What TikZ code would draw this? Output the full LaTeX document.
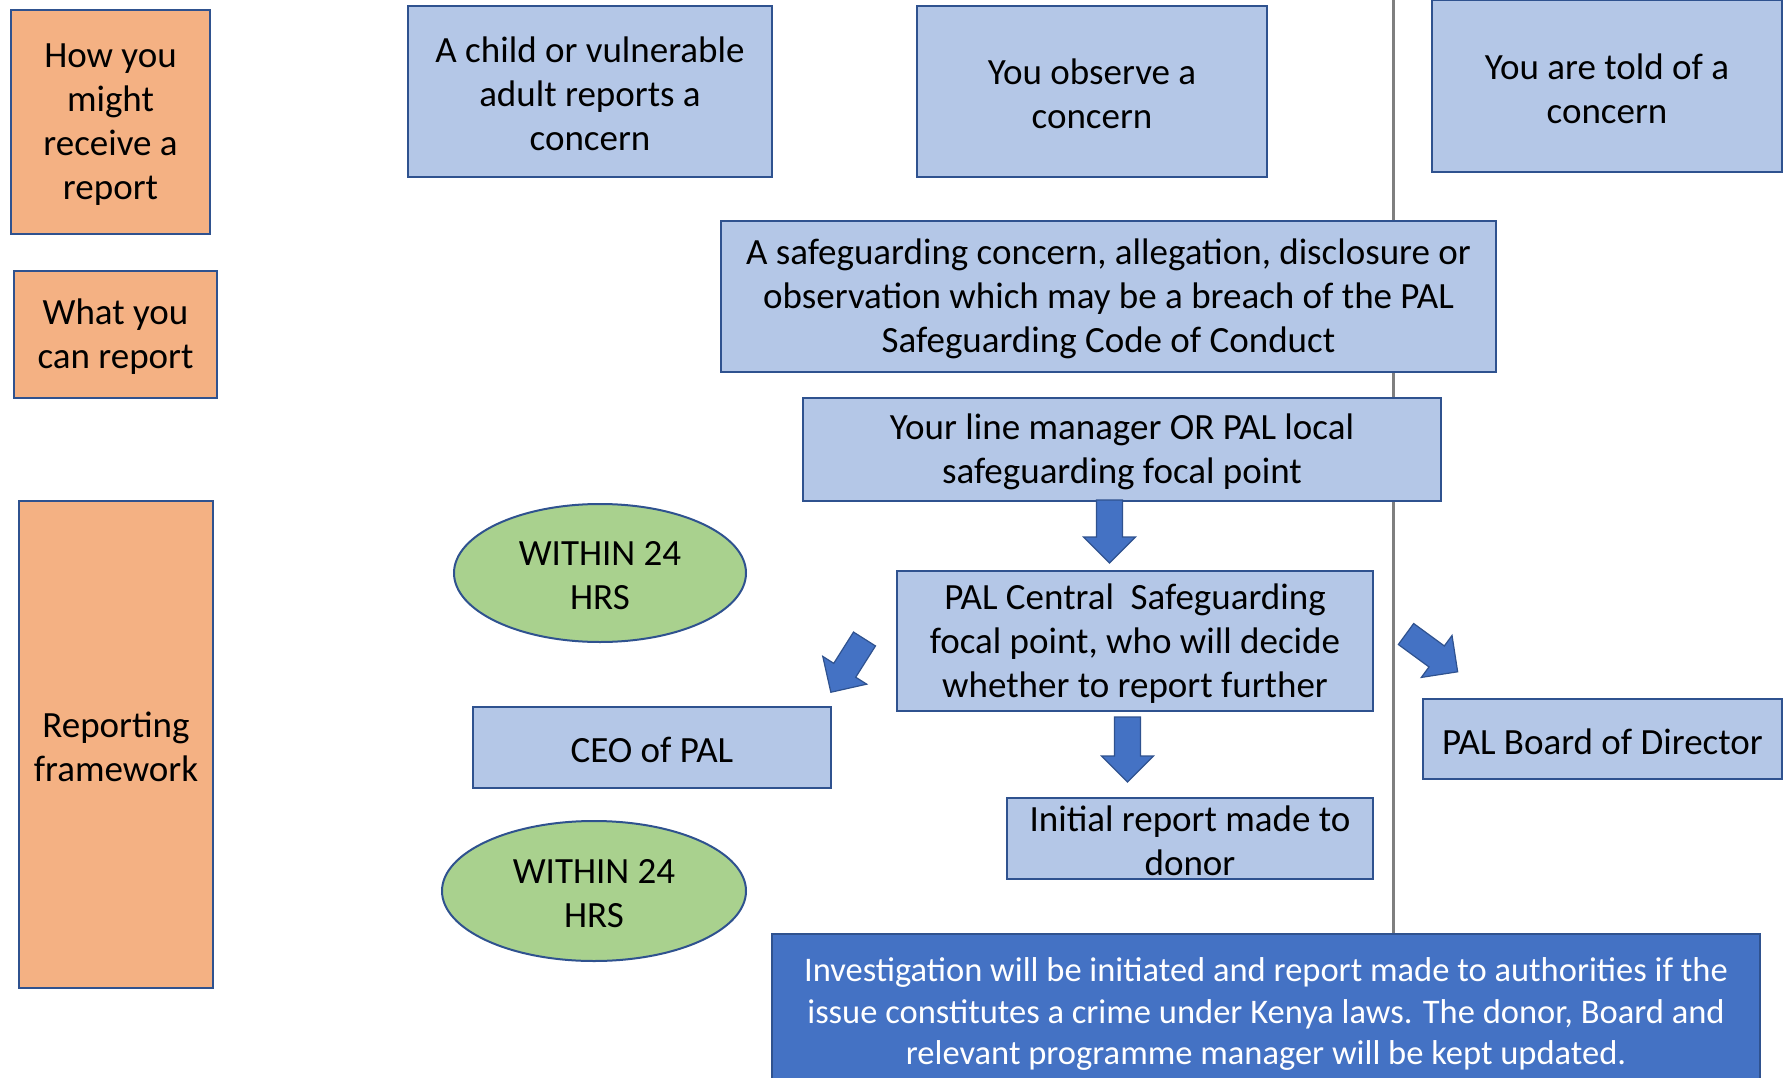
\documentclass[tikz,border=0pt]{standalone}
\usepackage{fontspec}
\setmainfont{Carlito}
\usetikzlibrary{shapes.geometric}
\definecolor{lblue}{HTML}{B4C7E7}
\definecolor{bord}{HTML}{2F528F}
\definecolor{orng}{HTML}{F4B183}
\definecolor{grn}{HTML}{A9D18E}
\definecolor{dblue}{HTML}{4472C4}
\definecolor{gline}{HTML}{7F7F7F}
\tikzset{
  base/.style={draw=bord, line width=2pt, inner sep=0pt},
  obox/.style={base, fill=orng},
  bbox/.style={base, fill=lblue},
  gell/.style={base, ellipse, fill=grn},
  ibox/.style={base, fill=dblue},
  txt/.style={inner sep=0pt, align=center, font=\fontsize{37}{44}\selectfont},
  itxt/.style={inner sep=0pt, align=center, text=white, font=\fontsize{34.5}{41.5}\selectfont},
  barrow/.style={draw=bord, line width=1.2pt, fill=dblue, line join=miter},
  vline/.style={draw=gline, line width=3pt}
}
% shape node plus its text node, text set 2.5pt lower than the centre
\newcommand{\boxnode}[7]{%
  \node[#1, minimum width=#5, minimum height=#6] (#2) at (#3,#4) {};
  \node[txt] (#2-t) at ([yshift=-2.5pt]#2.center) {#7};}
\newcommand{\blockarrow}[5]{%
  \begin{scope}[shift={(#2,#3)},rotate=#4]
    \filldraw[barrow] (0,-13) -- (#5-26,-13) -- (#5-26,-26) -- (#5,0) -- (#5-26,26) -- (#5-26,13) -- (0,13) -- cycle;
    \coordinate (#1) at (#5,0);
  \end{scope}}
\begin{document}
\begin{tikzpicture}[x=1pt,y=-1pt]
\useasboundingbox (0,0) rectangle (1783,1078);
% vertical separator
\coordinate (vtop) at (1393,0);
\node[ibox, minimum width=988, minimum height=156] (inv) at (1266,1012) {};
\node[itxt] (inv-t) at ([yshift=-2pt]inv.center)
 {Investigation will be initiated and report made to authorities if the\\issue constitutes a crime under Kenya laws. The donor, Board and\\relevant programme manager will be kept updated.};
\draw[vline] (vtop) -- (vtop |- inv.north);
% left column
\boxnode{obox}{o1}{110.5}{122}{199}{224}{How you\\might\\receive a\\report}
\boxnode{obox}{o2}{115.5}{334.5}{203}{127}{What you\\can report}
\boxnode{obox}{o3}{116}{744.5}{194}{487}{Reporting\\framework}
% top row
\boxnode{bbox}{b1}{590}{91.5}{364}{171}{A child or vulnerable\\adult reports a\\concern}
\boxnode{bbox}{b2}{1092}{91.5}{350}{171}{You observe a\\concern}
\boxnode{bbox}{b3}{1607}{86}{350}{172}{You are told of a\\concern}
% middle
\boxnode{bbox}{sg}{1108.5}{296.5}{775}{151}{A safeguarding concern, allegation, disclosure or\\observation which may be a breach of the PAL\\Safeguarding Code of Conduct}
\boxnode{bbox}{lm}{1122}{449.5}{638}{103}{Your line manager OR PAL local\\safeguarding focal point}
\boxnode{bbox}{cen}{1135}{641}{476}{140}{PAL Central\ \ Safeguarding\\focal point, who will decide\\whether to report further}
\boxnode{bbox}{ceo}{652}{747.5}{358}{81}{CEO of PAL}
\boxnode{bbox}{bod}{1602.5}{739}{359}{80}{PAL Board of Director}
\boxnode{bbox}{don}{1190}{838.5}{366}{81}{Initial report made to\\donor}
\boxnode{gell}{e1}{600}{573}{292}{138}{WITHIN 24\\HRS}
\boxnode{gell}{e2}{594}{891}{304}{140}{WITHIN 24\\HRS}
% block arrows
\blockarrow{a1}{1109.5}{500}{-90}{63}
\blockarrow{a2}{1127.5}{717}{-90}{65}
\blockarrow{a3}{864.5}{639}{-122.3}{63}
\blockarrow{a4}{1406}{634}{-36.2}{64}
\end{tikzpicture}
\end{document}
